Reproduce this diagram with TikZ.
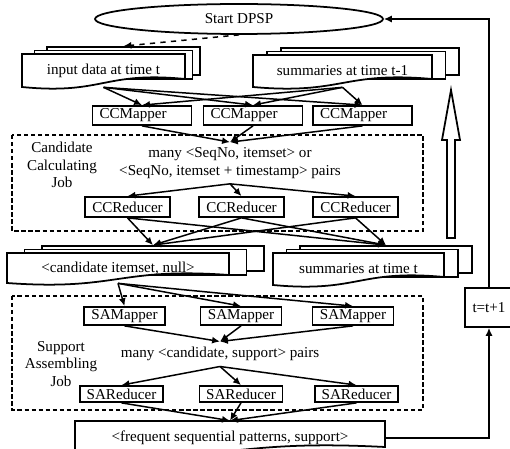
\documentclass[tikz,border=0pt]{standalone}
\usepackage{fontspec}
\setmainfont{Liberation Serif}
\usetikzlibrary{arrows.meta,shapes.geometric,fit}

% one page with a wavy bottom edge
\newcommand{\docpage}[6]{%
  \draw[pageline] (#2,#5) -- (#2,#3) -- (#4,#3) -- (#4,{#5-8})
    .. controls ({(#2+#4)/2},{#5-16}) and ({(#2+#4)/2},{#5+8}) .. (#2,#5) -- cycle;
  \node[fit={(#2,#3) (#4,#5)}, inner sep=0pt] (#1) {};
  \node[pagetext] (#1-text) at (#1.center) {#6};
}
% a stack of three pages
\newcommand{\docstack}[8]{%
  \node[pageline, fit={({#2+2*#6},{#3-7}) ({#4+2*#7},{#5-12})}, inner sep=0pt] (#1-back) {};
  \node[pageline, fit={({#2+#6},{#3-3.5}) ({#4+#7},{#5-8})}, inner sep=0pt] (#1-mid) {};
  \docpage{#1}{#2}{#3}{#4}{#5}{#8}
}

\begin{document}
\begin{tikzpicture}[
  x=0.02cm, y=-0.02cm,
  every node/.style={font=\fontsize{8.6}{9.8}\selectfont},
  startnode/.style={draw,ellipse,line width=1pt,minimum width=5.76cm,
                    minimum height=0.6cm,inner sep=0pt},
  pageline/.style={draw,fill=white,line width=1pt},
  pagetext/.style={inner sep=0pt},
  procbox/.style={draw,fill=white,line width=1pt,inner sep=0pt},
  mapbox/.style={procbox,minimum height=0.38cm,inner xsep=0.14cm,
                 text width=1.7cm,align=left},
  ccredbox/.style={procbox,minimum width=1.7cm,minimum height=0.4cm},
  samapbox/.style={procbox,minimum width=1.62cm,minimum height=0.36cm},
  saredbox/.style={procbox,minimum width=1.66cm,minimum height=0.32cm},
  incbox/.style={procbox,minimum width=0.96cm,minimum height=0.78cm},
  jobbox/.style={draw,dash pattern=on 2.5pt off 1.5pt,line width=0.8pt},
  jobtext/.style={align=center,inner sep=0pt},
  pairtext/.style={align=center,inner sep=3pt},
  arr/.style={-{Latex[length=4.5pt,width=4pt]},line width=0.85pt},
]
  \useasboundingbox (0,0) rectangle (510,449);

  % Jobs
  \draw[jobbox] (12,135) rectangle (423,231);
  \draw[jobbox] (12,296) rectangle (423,410);
  \node[jobtext] (ccjob) at (62,165) {Candidate\\Calculating\\Job};
  \node[jobtext] (sajob) at (61,364) {Support\\Assembling\\Job};

  % Start
  \node[startnode] (start) at (239,19) {Start DPSP};

  % Data
  \docstack{indata}{22}{54}{185}{87}{12.5}{7.5}{input data at time t}
  \docstack{sumprev}{253}{55}{432}{87}{14}{13.5}{summaries at time t-1}
  \docstack{cset}{7}{253}{229}{283}{17.5}{17.5}{<candidate itemset, null>}
  \docstack{sumnow}{273}{253}{444}{285}{13.5}{14}{summaries at time t}
  \docpage{freq}{75}{421}{385}{455}{<frequent sequential patterns, support>}

  % Next round
  \draw[pageline] (447,238) -- (447,140) -- (442,140) -- (451,90)
    -- (460,140) -- (455,140) -- (455,238) -- cycle;
  \node[incbox] (incr) at (489,307.5) {t=t+1};

  % Candidate calculating
  \node[mapbox] (ccm1) at (142,115.5) {CCMapper};
  \node[mapbox] (ccm2) at (253,115.5) {CCMapper};
  \node[mapbox] (ccm3) at (362.5,115.5) {CCMapper};
  \node[pairtext] (ccpairs) at (230,163)
    {many <SeqNo, itemset> or\\<SeqNo, itemset + timestamp> pairs};
  \node[ccredbox] (ccr1) at (127.5,207) {CCReducer};
  \node[ccredbox] (ccr2) at (241.5,207) {CCReducer};
  \node[ccredbox] (ccr3) at (355.5,207) {CCReducer};

  % Support assembling
  \node[samapbox] (sam1) at (124.5,316) {SAMapper};
  \node[samapbox] (sam2) at (241,316) {SAMapper};
  \node[samapbox] (sam3) at (353,316) {SAMapper};
  \node[pairtext] (sapairs) at (220,354) {many <candidate, support> pairs};
  \node[saredbox] (sar1) at (121.5,394) {SAReducer};
  \node[saredbox] (sar2) at (241,394) {SAReducer};
  \node[saredbox] (sar3) at (356.5,394) {SAReducer};

  % Arrows
  \draw[arr,dashed] (start.south) -- (indata-back.north);
  \foreach \s in {indata,sumprev}
    \foreach \m in {ccm1,ccm2,ccm3}
      \draw[arr] (\s.south) -- (\m.north);
  \foreach \m in {ccm1,ccm2,ccm3}
    \draw[arr] (\m.south) -- (ccpairs.north);
  \foreach \r in {ccr1,ccr2,ccr3} {
    \draw[arr] (ccpairs.south) -- (\r.north);
    \draw[arr] (\r.south) -- (cset-back.north);
    \draw[arr] (\r.south) -- (sumnow-back.north);
  }
  \foreach \m in {sam1,sam2,sam3} {
    \draw[arr] (cset.south) -- (\m.north);
    \draw[arr] (\m.south) -- (sapairs.north);
  }
  \foreach \r in {sar1,sar2,sar3} {
    \draw[arr] (sapairs.south) -- (\r.north);
    \draw[arr] (\r.south) -- (freq.north);
  }
  \draw[arr] (freq.east) -| (incr.south);
  \draw[arr] (incr.north) |- (start.east);
\end{tikzpicture}
\end{document}
